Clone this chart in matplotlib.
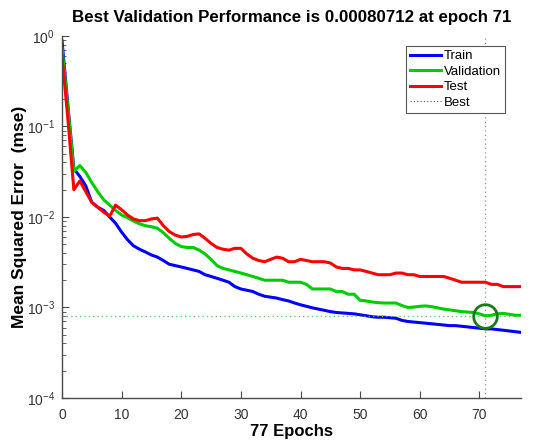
import matplotlib
matplotlib.use("Agg")
import matplotlib.pyplot as plt
from matplotlib.lines import Line2D
import numpy as np

plt.rcParams['font.family'] = ['Liberation Sans', 'DejaVu Sans']
plt.rcParams['mathtext.fontset'] = 'custom'
plt.rcParams['mathtext.rm'] = 'Liberation Sans'
plt.rcParams['mathtext.it'] = 'Liberation Sans:italic'
plt.rcParams['mathtext.bf'] = 'Liberation Sans:bold'

epochs = list(range(0, 78))

train = [0.90, 0.17, 0.034, 0.028, 0.022, 0.0145, 0.0128, 0.0118, 0.0100, 0.0085,
         0.0068, 0.0056, 0.0048, 0.0044, 0.0041, 0.0038, 0.0036, 0.0033, 0.0030, 0.0029,
         0.0028, 0.0027, 0.0026, 0.0025, 0.0023, 0.0022, 0.0021, 0.0020, 0.0019, 0.0017,
         0.0016, 0.00155, 0.0015, 0.0014, 0.00133, 0.0013, 0.00127, 0.00122, 0.00118, 0.00112,
         0.00107, 0.00103, 0.00099, 0.00096, 0.00093, 0.00090, 0.00088, 0.00087, 0.00086, 0.00085,
         0.00083, 0.00081, 0.00079, 0.00078, 0.00078, 0.00077, 0.00076, 0.00072, 0.00070, 0.00069,
         0.00068, 0.00067, 0.00066, 0.00065, 0.00064, 0.00063, 0.00063, 0.00062, 0.00061, 0.00060,
         0.00059, 0.00058, 0.00058, 0.00057, 0.00056, 0.00055, 0.00054, 0.00053]

validation = [0.75, 0.16, 0.032, 0.037, 0.031, 0.024, 0.019, 0.0155, 0.0135, 0.0118,
              0.0105, 0.0098, 0.0090, 0.0084, 0.0080, 0.0078, 0.0075, 0.0067, 0.0058, 0.0051,
              0.0047, 0.0046, 0.0046, 0.0043, 0.0039, 0.0034, 0.0029, 0.0027, 0.0026, 0.0025,
              0.0024, 0.0023, 0.0022, 0.0021, 0.0020, 0.0020, 0.0020, 0.0020, 0.0019, 0.0019,
              0.0019, 0.0018, 0.0016, 0.0016, 0.0016, 0.0016, 0.0015, 0.0015, 0.0014, 0.0014,
              0.0012, 0.00118, 0.00115, 0.00113, 0.00112, 0.00112, 0.00112, 0.00105, 0.00100, 0.00101,
              0.00103, 0.00104, 0.00102, 0.00099, 0.00096, 0.00094, 0.00092, 0.00090, 0.00089, 0.00088,
              0.00085, 0.00080712, 0.00082, 0.00085, 0.00086, 0.00084, 0.00082, 0.00082]

test = [0.62, 0.12, 0.020, 0.025, 0.019, 0.0145, 0.0128, 0.0113, 0.0102, 0.0135,
        0.0120, 0.0105, 0.0095, 0.0091, 0.0091, 0.0095, 0.0097, 0.0080, 0.0069, 0.0063,
        0.0060, 0.0061, 0.0064, 0.0065, 0.0058, 0.0051, 0.0046, 0.0044, 0.0043, 0.0045,
        0.0045, 0.0039, 0.0035, 0.0033, 0.0032, 0.0034, 0.0036, 0.0035, 0.0032, 0.0032,
        0.0034, 0.0033, 0.0032, 0.0032, 0.0032, 0.0031, 0.0028, 0.0027, 0.0027, 0.0026,
        0.0026, 0.0025, 0.0024, 0.0023, 0.0023, 0.0023, 0.0024, 0.0024, 0.0023, 0.0023,
        0.0022, 0.0022, 0.0022, 0.0022, 0.0022, 0.0021, 0.0020, 0.0019, 0.0019, 0.0019,
        0.0019, 0.0019, 0.0018, 0.0018, 0.0017, 0.0017, 0.0017, 0.0017]

best_epoch = 71
best_value = 0.00080712

xticks = [0, 10, 20, 30, 40, 50, 60, 70]
yticks = [1e-4, 1e-3, 1e-2, 1e-1, 1e0]

fig = plt.figure(figsize=(5.34, 4.43), dpi=100)
ax = fig.add_axes([0.116, 0.1016, 0.860, 0.8174])

ax.plot(epochs, train, color='#0000ff', lw=2.2, label='Train', solid_capstyle='round')
ax.plot(epochs, validation, color='#00cc00', lw=2.2, label='Validation', solid_capstyle='round')
ax.plot(epochs, test, color='#ff0000', lw=2.2, label='Test', solid_capstyle='round')

ax.axvline(best_epoch, color='#7aa07a', lw=0.9, ls=(0, (1, 2.5)))
ax.axhline(best_value, color='#5fbf5f', lw=0.9, ls=(0, (1, 2.5)))
ax.plot([best_epoch], [best_value], marker='o', ms=17, mfc='none', mec='#1a7a1a', mew=2)

ax.set_yscale('log')
ax.set_xlim(0, 77)
ax.set_ylim(1e-4, 1e0)
ax.set_xticks(xticks)
ax.set_yticks(yticks)

for s in ['top', 'right']:
    ax.spines[s].set_visible(False)
for s in ['left', 'bottom']:
    ax.spines[s].set_color('#4a4a4a')
    ax.spines[s].set_linewidth(1.0)

ax.tick_params(axis='both', which='both', direction='in', colors='#4a4a4a', labelcolor='#333333',
               labelsize=10)
ax.tick_params(axis='both', which='major', length=5)
ax.tick_params(axis='x', which='major', pad=7)
ax.tick_params(axis='y', which='major', pad=5)
ax.tick_params(axis='y', which='minor', length=3)

ax.set_title('Best Validation Performance is 0.00080712 at epoch 71', fontsize=12.2,
             fontweight='bold', pad=10)
ax.set_xlabel('77 Epochs', fontsize=12, fontweight='bold', labelpad=2)
ax.set_ylabel('Mean Squared Error  (mse)', fontsize=12.5, fontweight='bold', labelpad=0)

handles = [Line2D([], [], color='#0000ff', lw=2.2),
           Line2D([], [], color='#00cc00', lw=2.2),
           Line2D([], [], color='#ff0000', lw=2.2),
           Line2D([], [], color='#555555', lw=0.8, ls=(0, (1, 2)))]
leg = ax.legend(handles, ['Train', 'Validation', 'Test', 'Best'], loc='upper right',
                bbox_to_anchor=(0.965, 0.972), fontsize=9.5, handlelength=2.4,
                handletextpad=0.2, labelspacing=0.25, borderpad=0.3, fancybox=False,
                framealpha=1, edgecolor='#555555', borderaxespad=0)
leg.get_frame().set_linewidth(0.8)

fig.savefig('out.png', dpi=100)
